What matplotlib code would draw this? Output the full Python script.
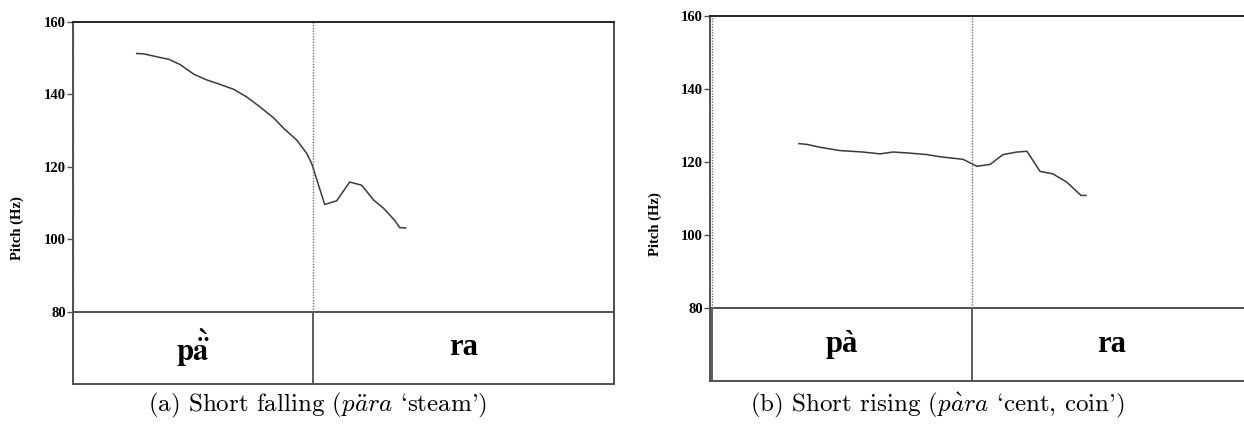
import matplotlib
matplotlib.use("Agg")
import matplotlib.pyplot as plt

# pitch tracks (time in ms, pitch in Hz)
falling_t = [64, 71, 84, 96, 107, 121, 134, 147, 161, 174, 187, 201, 211,
             224, 234, 239, 252, 264, 277, 289, 301, 311, 322, 327, 333]
falling_hz = [151.3, 151.2, 150.4, 149.7, 148.3, 145.6, 144.0, 142.8, 141.4,
              139.3, 136.6, 133.5, 130.6, 127.4, 123.7, 120.9, 109.6, 110.6,
              115.8, 114.9, 110.8, 108.5, 105.2, 103.2, 103.1]

rising_t = [89, 97, 110, 130, 153, 170, 183, 200, 217, 230, 253, 267, 280,
            293, 307, 317, 330, 343, 357, 371, 376]
rising_hz = [125.0, 124.8, 124.0, 123.1, 122.7, 122.2, 122.7, 122.4, 122.0,
             121.4, 120.7, 118.8, 119.3, 122.0, 122.7, 122.9, 117.4, 116.7,
             114.4, 110.8, 110.8]

yticks = [80, 100, 120, 140, 160]
falling_bounds = [0, 240, 541]
rising_bounds = [2, 262, 541]
falling_syl = [r"$\mathbf{p\grave{\ddot{a}}}$", "ra"]
rising_syl = ["p\u00e0", "ra"]

plt.rcParams["mathtext.fontset"] = "cm"

W, H = 1244, 438
fig = plt.figure(figsize=(W / 100, H / 100), dpi=100)

ax1 = fig.add_axes([72.7 / W, (H - 384) / H, 541 / W, 362 / H])
ax2 = fig.add_axes([710 / W, (H - 380.7) / H, 541 / W, 364.7 / H])

line_col = "#505050"


def draw_panel(ax, t, hz, bounds, syls, right_spine):
    ax.set_xlim(0, 541)
    ax.set_ylim(60, 160)
    ax.plot(t, hz, color="#3a3a3a", lw=1.1)
    ax.axhline(80, color=line_col, lw=1.4)
    for b in bounds[:-1]:
        if b > 0:
            ax.plot([b, b], [60, 80], color=line_col, lw=1.3)
        ax.plot([b, b], [80, 160], color="#707070", lw=1.0, ls=(0, (1, 1)))
    for i, s in enumerate(syls):
        mid = (bounds[i] + bounds[i + 1]) / 2
        ax.text(mid, 70, s, ha="center", va="center", fontsize=22,
                fontweight="bold", family="Liberation Serif",
                math_fontfamily="stix")
    ax.set_xticks([])
    ax.set_yticks(yticks)
    ax.tick_params(axis="y", direction="out", length=4, width=1, pad=1,
                   labelsize=10.5, color=line_col)
    for lbl in ax.get_yticklabels():
        lbl.set_fontweight("bold")
        lbl.set_family("Liberation Serif")
    for side in ["left", "top", "bottom", "right"]:
        ax.spines[side].set_color(line_col)
        ax.spines[side].set_linewidth(1.4)
    ax.spines["top"].set_color("#222222")
    ax.spines["right"].set_visible(right_spine)
    ax.text(-55 / 541, 0.43, "Pitch (Hz)", rotation=90, ha="center",
            va="center", transform=ax.transAxes, fontsize=10.5,
            fontweight="bold", family="Liberation Serif")


draw_panel(ax1, falling_t, falling_hz, falling_bounds, falling_syl, True)
draw_panel(ax2, rising_t, rising_hz, rising_bounds, rising_syl, False)

fig.text(318 / W, 1 - 405 / H,
         r"(a) Short falling ($\mathit{p\ddot{a}ra}$ `steam')",
         ha="center", va="center", fontsize=18, family="cmr10")
fig.text(937 / W, 1 - 405 / H,
         r"(b) Short rising ($\mathit{p\grave{a}ra}$ `cent, coin')",
         ha="center", va="center", fontsize=18, family="cmr10")

fig.savefig("out.png", dpi=100)
